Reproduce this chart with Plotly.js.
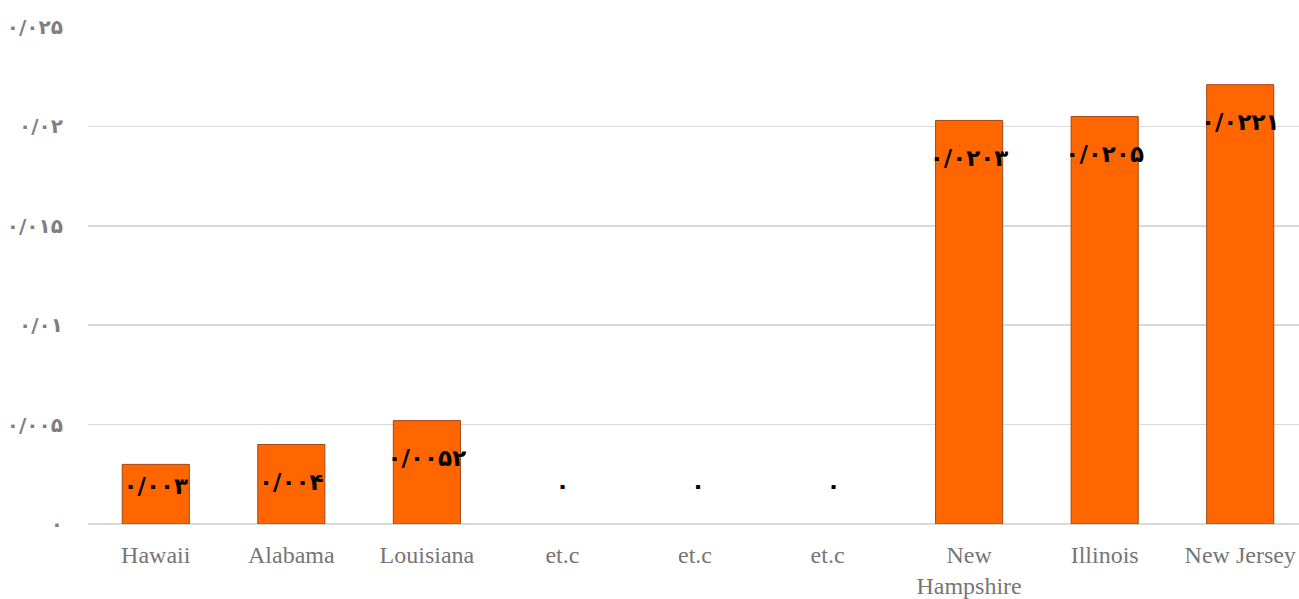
<!DOCTYPE html>
<html>
<head>
<meta charset="utf-8">
<script src="https://cdn.plot.ly/plotly-3.0.1.min.js"></script>
<style>
html, body { margin: 0; padding: 0; overflow: hidden; background: #fff; }
#chart { width: 1308px; height: 599px; }
</style>
</head>
<body>
<div id="chart"></div>
<script>
// Data
const categories = ["Hawaii", "Alabama", "Louisiana", "et.c", "et.c ", "et.c  ", "New<br>Hampshire", "Illinois", "New Jersey"];
const values = [0.003, 0.004, 0.0052, 0, 0, 0, 0.0203, 0.0205, 0.0221];
const valueLabels = ["۰/۰۰۳", "۰/۰۰۴", "۰/۰۰۵۲", "۰", "۰", "۰", "۰/۰۲۰۳", "۰/۰۲۰۵", "۰/۰۲۲۱"];
const yTickVals = [0, 0.005, 0.01, 0.015, 0.02, 0.025];
const yTickText = ["۰", "۰/۰۰۵", "۰/۰۱", "۰/۰۱۵", "۰/۰۲", "۰/۰۲۵"];

// label placement (data units): below bar top, or above baseline for small bars
const topOffset = 0.0020;
const minLabel = 0.0018;
const labelY = values.map(v => Math.max(v - topOffset, minLabel));

const bars = {
  type: "bar",
  x: categories,
  y: values,
  marker: {
    color: "#FF6600",
    line: { color: "#9c4a1a", width: values.map(v => (v > 0 ? 1 : 0)) }
  },
  hoverinfo: "none"
};
const labels = {
  type: "scatter",
  mode: "text",
  x: categories,
  y: labelY,
  text: valueLabels,
  textposition: "middle center",
  textfont: { family: "DejaVu Sans", size: 23, color: "#000000", weight: "bold" },
  cliponaxis: false,
  hoverinfo: "none"
};

const layout = {
  width: 1308,
  height: 599,
  margin: { l: 88, r: 0, t: 27, b: 75 },
  paper_bgcolor: "#ffffff",
  plot_bgcolor: "#ffffff",
  showlegend: false,
  bargap: 0.505,
  xaxis: {
    type: "category",
    tickfont: { family: "Liberation Serif", size: 24, color: "#767676" },
    ticks: "outside",
    ticklen: 9,
    tickcolor: "rgba(0,0,0,0)",
    showgrid: false,
    showline: false,
    zeroline: false,
    fixedrange: true
  },
  yaxis: {
    range: [0, 0.025],
    tickvals: yTickVals,
    ticktext: yTickText,
    tickfont: { family: "DejaVu Sans", size: 20, color: "#7f7f7f", weight: "bold" },
    ticks: "outside",
    ticklen: 20,
    tickcolor: "rgba(0,0,0,0)",
    showgrid: true,
    gridcolor: "#d9d9d9",
    gridwidth: 1.5,
    zeroline: true,
    zerolinecolor: "#d9d9d9",
    zerolinewidth: 1.5,
    showline: false,
    fixedrange: true
  }
};

Plotly.newPlot("chart", [bars, labels], layout, { displayModeBar: false, staticPlot: true });
</script>
</body>
</html>
